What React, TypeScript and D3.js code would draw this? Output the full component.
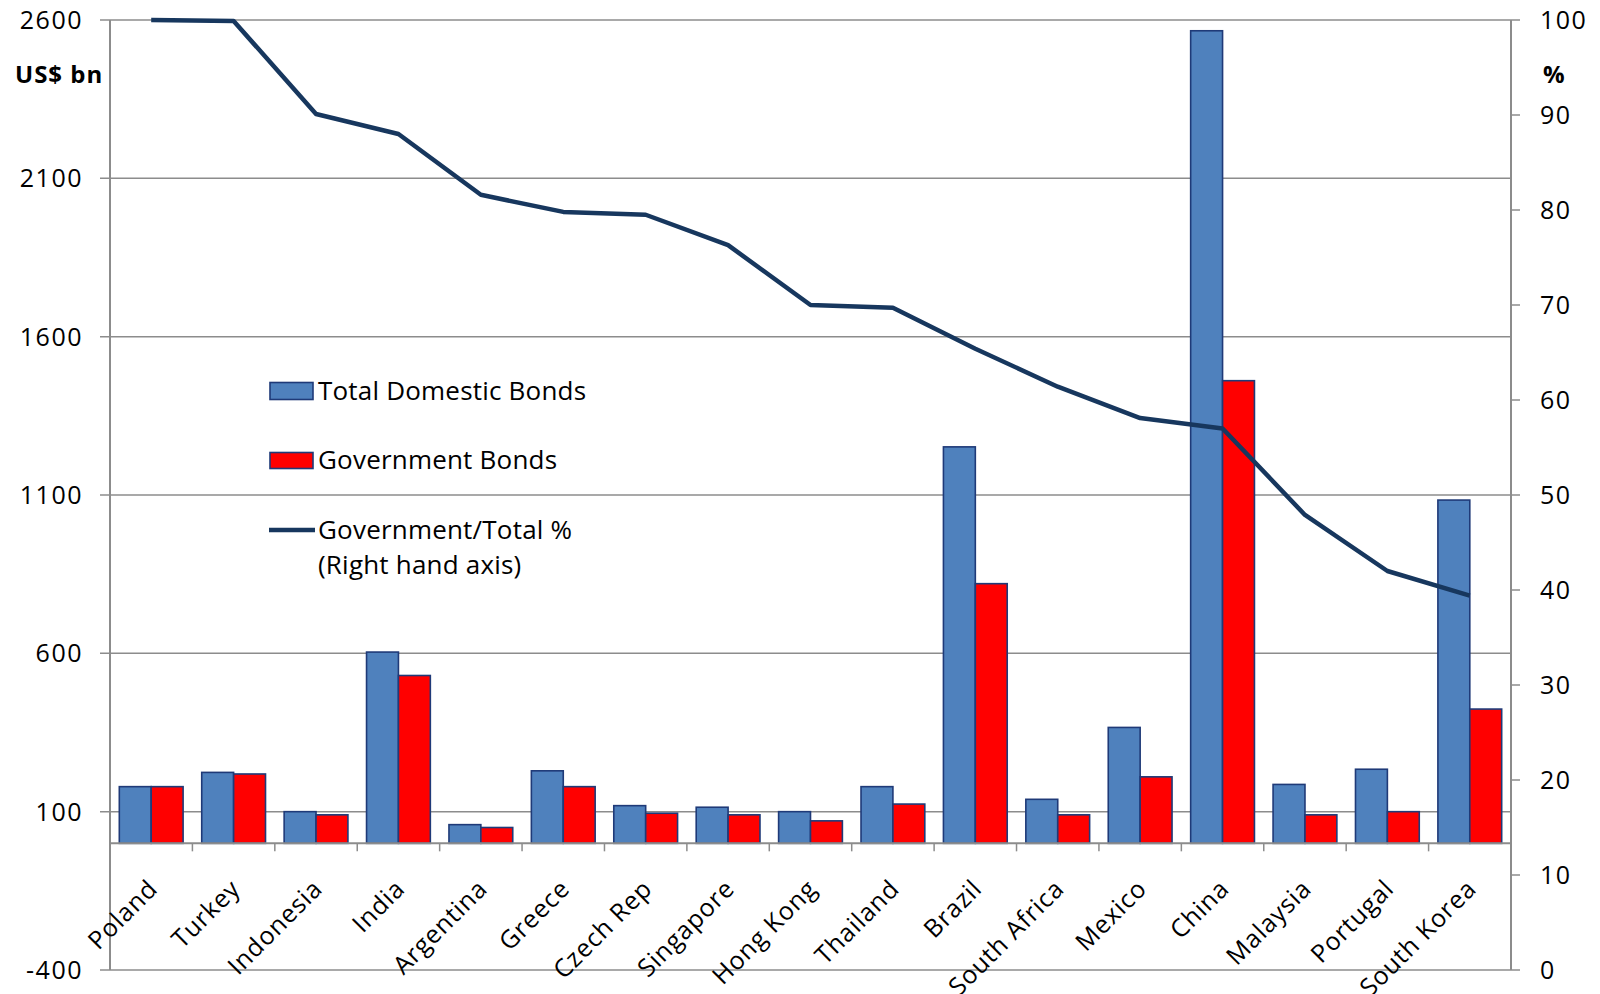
import React from 'react';
import * as d3 from 'd3';

const categories = ['Poland','Turkey','Indonesia','India','Argentina','Greece','Czech Rep','Singapore','Hong Kong','Thailand','Brazil','South Africa','Mexico','China','Malaysia','Portugal','South Korea'];
const totalBonds = [179, 224, 100, 604, 59, 229, 119, 114, 100, 179, 1252, 139, 366, 2566, 186, 234, 1084];
const govBonds = [179, 219, 90, 530, 50, 179, 95, 90, 71, 124, 820, 90, 210, 1461, 90, 100, 424];
const govShare = [100, 99.9, 90.1, 88.0, 81.6, 79.8, 79.5, 76.3, 70.0, 69.7, 65.4, 61.4, 58.1, 57.0, 47.9, 42.0, 39.4];
const leftTicks = [-400, 100, 600, 1100, 1600, 2100, 2600];
const rightTicks = [0, 10, 20, 30, 40, 50, 60, 70, 80, 90, 100];

const W = 1600, H = 994;
const L = 110, R = 1511, T = 20, B = 970;
const FONT = '"Open Sans", "Noto Sans", sans-serif';
const GRID = '#8c8c8c';
const NAVY = '#17375e';
const BLUE = '#4f81bd';
const RED = '#ff0000';
const EDGE = '#1f3a78';

export default function App() {
  const x = d3.scaleBand<string>().domain(categories).range([L, R]).padding(0);
  const y = d3.scaleLinear().domain([-400, 2600]).range([B, T]);
  const yr = d3.scaleLinear().domain([0, 100]).range([B, T]);
  const bw = x.bandwidth();
  const barW = bw * 0.387;
  const off = (bw - 2 * barW) / 2;
  const y0 = y(0);

  const line = d3.line<number>()
    .x((_, i) => (x(categories[i]) as number) + bw / 2)
    .y((d) => yr(d));

  return (
    <svg width={W} height={H} style={{ position: 'absolute', left: 0, top: 0, background: '#fff' }} fontFamily={FONT}>
      <rect x={0} y={0} width={W} height={H} fill="#fff" />
      {leftTicks.map((t) => (
        <g key={'g' + t}>
          <line x1={L - 10} x2={R} y1={y(t)} y2={y(t)} stroke={GRID} strokeWidth={1.5} />
          <text x={83} y={y(t)} dy="0.36em" textAnchor="end" fontSize={25} letterSpacing={1.5} fill="#000">{t}</text>
        </g>
      ))}
      {rightTicks.map((t) => (
        <g key={'r' + t}>
          <line x1={R} x2={R + 9} y1={yr(t)} y2={yr(t)} stroke={GRID} strokeWidth={1.5} />
          <text x={1540} y={yr(t)} dy="0.36em" textAnchor="start" fontSize={25} letterSpacing={1.5} fill="#000">{t}</text>
        </g>
      ))}
      <line x1={L} x2={L} y1={T} y2={B} stroke={GRID} strokeWidth={2} />
      <line x1={R} x2={R} y1={T} y2={B} stroke={GRID} strokeWidth={2} />
      {categories.map((c, i) => {
        const bx = (x(c) as number) + off;
        return (
          <g key={'b' + c}>
            <rect x={bx} y={y(totalBonds[i])} width={barW} height={y0 - y(totalBonds[i])} fill={BLUE} stroke={EDGE} strokeWidth={1.6} />
            <rect x={bx + barW} y={y(govBonds[i])} width={barW} height={y0 - y(govBonds[i])} fill={RED} stroke={EDGE} strokeWidth={1.6} />
          </g>
        );
      })}
      <line x1={L} x2={R} y1={y0} y2={y0} stroke={GRID} strokeWidth={2} />
      {categories.map((c, i) => (i > 0 ? (
        <line key={'ct' + c} x1={x(c) as number} x2={x(c) as number} y1={y0} y2={y0 + 8} stroke={GRID} strokeWidth={1.5} />
      ) : null))}
      {categories.map((c) => {
        const cx = (x(c) as number) + bw / 2 + 8;
        const cy = y0 + 47;
        return (
          <text key={'cl' + c} x={cx} y={cy} textAnchor="end" fontSize={25} letterSpacing={0.8} transform={`rotate(-45 ${cx} ${cy})`} fill="#000">{c}</text>
        );
      })}
      <path d={line(govShare) as string} fill="none" stroke={NAVY} strokeWidth={4.5} strokeLinejoin="round" />
      <text x={15} y={83} fontSize={24} fontWeight="bold" letterSpacing={1} fill="#000">US$ bn</text>
      <text x={1543} y={83} fontSize={24} fontWeight="bold" fill="#000">%</text>
      <rect x={270} y={382.5} width={43} height={17} fill={BLUE} stroke={EDGE} strokeWidth={1.6} />
      <text x={318} y={400} fontSize={26} letterSpacing={0.2} fill="#000">Total Domestic Bonds</text>
      <rect x={270} y={452.5} width={43} height={16} fill={RED} stroke={EDGE} strokeWidth={1.6} />
      <text x={318} y={469} fontSize={26} letterSpacing={0.2} fill="#000">Government Bonds</text>
      <line x1={269} x2={315} y1={530} y2={530} stroke={NAVY} strokeWidth={4.5} />
      <text x={318} y={539} fontSize={26} letterSpacing={0.2} fill="#000">Government/Total %</text>
      <text x={318} y={574} fontSize={26} letterSpacing={0.2} fill="#000">(Right hand axis)</text>
    </svg>
  );
}
